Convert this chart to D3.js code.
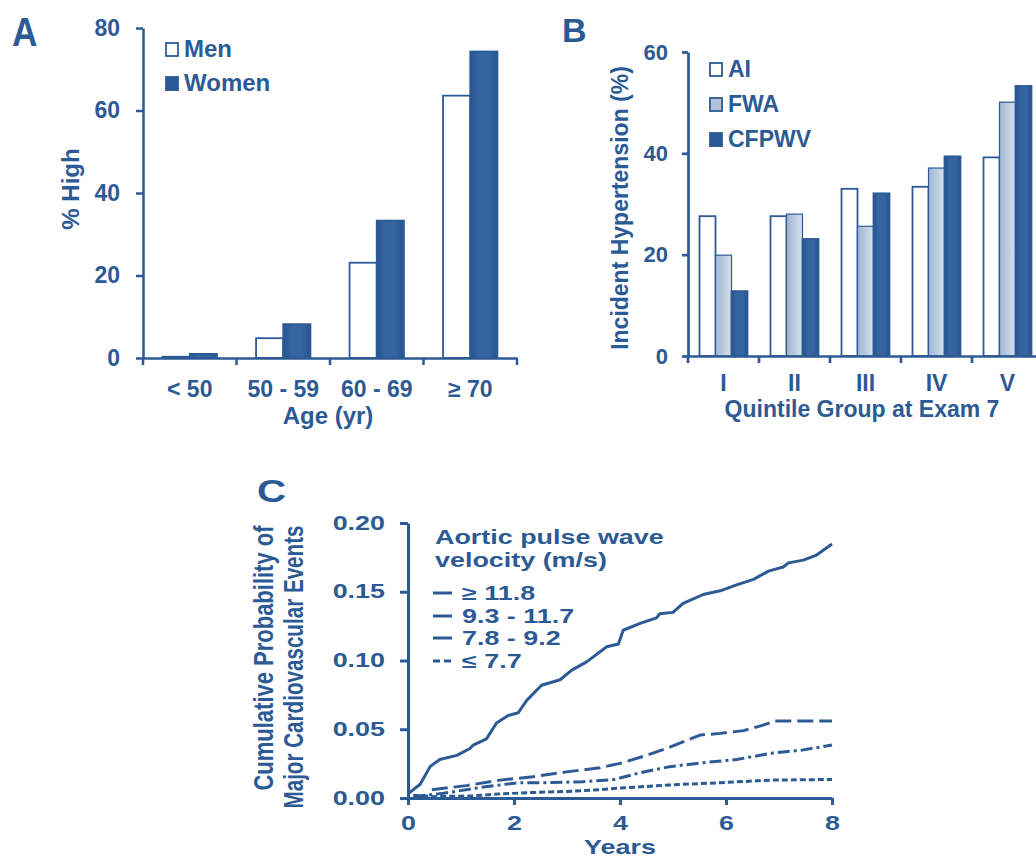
<!DOCTYPE html>
<html>
<head>
<meta charset="utf-8">
<script src="https://cdn.jsdelivr.net/npm/d3@7"></script>
<style>
  body { margin: 0; background: #fff; }
  svg { display: block; font-family: "Liberation Sans", Arial, Helvetica, sans-serif; font-weight: bold; }
</style>
</head>
<body>
<svg id="fig" width="1036" height="857"></svg>
<script>
// ---------- Panel A: prevalence of high values by age and sex ----------
const ageGroups = ["< 50", "50 - 59", "60 - 69", "≥ 70"];
const sexes = ["Men", "Women"];
const menHigh = [0.3, 4.8, 23.1, 63.6];
const womenHigh = [1.0, 8.2, 33.3, 74.3];
const percentTicks = [0, 20, 40, 60, 80];

// ---------- Panel B: incident hypertension by quintile ----------
const quintiles = ["I", "II", "III", "IV", "V"];
const measures = ["AI", "FWA", "CFPWV"];
const aiIncident = [27.6, 27.6, 33.0, 33.4, 39.2];
const fwaIncident = [19.9, 28.0, 25.6, 37.1, 50.1];
const cfpwvIncident = [12.8, 23.1, 32.1, 39.4, 53.3];
const incidentTicks = [0, 20, 40, 60];

// ---------- Panel C: cumulative probability of events by PWV group ----------
const pwvGroups = ["≥ 11.8", "9.3 - 11.7", "7.8 - 9.2", "≤ 7.7"];
const yearTicks = [0, 2, 4, 6, 8];
const probTicks = [0, 0.05, 0.10, 0.15, 0.20];

const yearsHigh = [0, 0.23, 0.42, 0.6, 0.92, 1.17, 1.23, 1.48, 1.67, 1.89, 2.08, 2.24, 2.52, 2.87, 3.09, 3.37, 3.75, 3.97, 4.06, 4.38, 4.69, 4.75, 5.0, 5.19, 5.57, 5.89, 6.2, 6.52, 6.8, 7.08, 7.18, 7.46, 7.71, 8.0];
const probHigh  = [0.003, 0.010, 0.023, 0.028, 0.031, 0.036, 0.0385, 0.043, 0.0545, 0.060, 0.062, 0.071, 0.082, 0.086, 0.093, 0.099, 0.110, 0.112, 0.122, 0.127, 0.131, 0.134, 0.135, 0.1415, 0.148, 0.1507, 0.155, 0.159, 0.165, 0.168, 0.171, 0.173, 0.1767, 0.1847];

const yearsUpper = [0.45, 1.1, 1.74, 2.36, 2.99, 3.62, 4.0, 4.5, 4.94, 5.51, 5.89, 6.33, 6.7, 6.92, 8.0];
const probUpper  = [0.006, 0.009, 0.013, 0.0155, 0.019, 0.022, 0.0252, 0.031, 0.037, 0.0458, 0.047, 0.049, 0.053, 0.056, 0.056];

const yearsMid = [0.1, 0.67, 1.42, 2.05, 2.68, 3.3, 3.9, 4.38, 4.94, 5.57, 6.2, 6.83, 7.46, 8.0];
const probMid  = [0.001, 0.0034, 0.008, 0.011, 0.0112, 0.0118, 0.0135, 0.0184, 0.0228, 0.0257, 0.028, 0.0324, 0.035, 0.0385];

const yearsLow = [0.1, 0.5, 1.2, 1.74, 2.36, 3.0, 3.62, 4.0, 4.94, 5.89, 6.83, 8.0];
const probLow  = [0.002, 0.001, 0.0015, 0.003, 0.004, 0.0048, 0.006, 0.0072, 0.0095, 0.0111, 0.013, 0.0135];

// ---------- shared styling ----------
const BLUE = "#2c5a95";
const svg = d3.select("#fig");
svg.append("rect").attr("width", 1036).attr("height", 857).attr("fill", "#fff");

const defs = svg.append("defs");
function hGradient(id, stops) {
  const g = defs.append("linearGradient").attr("id", id)
    .attr("x1", "0").attr("x2", "1").attr("y1", "0").attr("y2", "0");
  stops.forEach(([o, c]) => g.append("stop").attr("offset", o).attr("stop-color", c));
}
hGradient("darkFill", [["0%", "#26538e"], ["30%", "#3564a0"], ["70%", "#3564a0"], ["100%", "#26538e"]]);
hGradient("lightFill", [["0%", "#a3b6d0"], ["45%", "#b8c8dc"], ["100%", "#d9e2ee"]]);

function styleAxis(g, width, fontSize) {
  g.select(".domain").attr("stroke", BLUE).attr("stroke-width", width);
  g.selectAll(".tick line").attr("stroke", BLUE).attr("stroke-width", width);
  g.selectAll(".tick text").attr("fill", BLUE).attr("font-size", fontSize)
    .attr("font-family", "Liberation Sans, Arial, sans-serif").attr("font-weight", "bold");
}

// =====================================================================
// Panel A
// =====================================================================
const pA = svg.append("g");
const xA = d3.scaleBand().domain(ageGroups).range([143, 517]);
const subA = d3.scaleBand().domain(sexes).range([0, xA.bandwidth()]).paddingOuter(0.72);
const yA = d3.scaleLinear().domain([0, 80]).range([358, 28]);

const seriesA = [
  { key: "Men", values: menHigh, fill: "#ffffff" },
  { key: "Women", values: womenHigh, fill: "url(#darkFill)" }
];
seriesA.forEach(s => {
  pA.append("g").selectAll("rect").data(s.values).join("rect")
    .attr("x", (d, i) => xA(ageGroups[i]) + subA(s.key))
    .attr("width", subA.bandwidth())
    .attr("y", d => yA(d))
    .attr("height", d => yA(0) - yA(d))
    .attr("fill", s.fill)
    .attr("stroke", BLUE).attr("stroke-width", 1.8);
});

const axYA = pA.append("g").attr("transform", "translate(143,0)")
  .call(d3.axisLeft(yA).tickValues(percentTicks).tickSize(7).tickPadding(16).tickSizeOuter(0));
styleAxis(axYA, 2.5, 23);

const axXA = pA.append("g").attr("transform", `translate(0,${yA(0)})`)
  .call(d3.axisBottom(xA).tickSize(0).tickPadding(23).tickSizeOuter(0));
styleAxis(axXA, 2.5, 23);
// tick marks at the category boundaries
const boundsA = ageGroups.map(d => xA(d)).concat([xA.range()[1]]);
pA.append("g").selectAll("line").data(boundsA).join("line")
  .attr("x1", d => d).attr("x2", d => d)
  .attr("y1", yA(0)).attr("y2", yA(0) + 7)
  .attr("stroke", BLUE).attr("stroke-width", 2.5);

pA.append("text").attr("x", 328).attr("y", 424).attr("text-anchor", "middle")
  .attr("fill", BLUE).attr("font-size", 24).text("Age (yr)");
pA.append("text").attr("transform", "translate(79,189) rotate(-90)").attr("text-anchor", "middle")
  .attr("fill", BLUE).attr("font-size", 24).text("% High");

// legend
const legA = pA.append("g");
seriesA.forEach((s, i) => {
  const by = [57, 91][i];
  legA.append("rect").attr("x", 166).attr("y", by - 14).attr("width", 12).attr("height", 13)
    .attr("fill", s.key === "Men" ? "#fff" : BLUE).attr("stroke", BLUE).attr("stroke-width", 1.8);
  legA.append("text").attr("x", 184).attr("y", by).attr("fill", BLUE).attr("font-size", 24).text(s.key);
});

pA.append("text").attr("transform", "translate(12,46) scale(0.86,1)")
  .attr("fill", BLUE).attr("font-size", 41).text("A");

// =====================================================================
// Panel B
// =====================================================================
const pB = svg.append("g");
const xB = d3.scaleBand().domain(quintiles).range([688, 1043]);
const subB = d3.scaleBand().domain(measures).range([0, xB.bandwidth()]).paddingOuter(0.72);
const yB = d3.scaleLinear().domain([0, 60]).range([356, 52]);

const seriesB = [
  { key: "AI", values: aiIncident, fill: "#ffffff" },
  { key: "FWA", values: fwaIncident, fill: "url(#lightFill)" },
  { key: "CFPWV", values: cfpwvIncident, fill: "url(#darkFill)" }
];
seriesB.forEach(s => {
  pB.append("g").selectAll("rect").data(s.values).join("rect")
    .attr("x", (d, i) => xB(quintiles[i]) + subB(s.key))
    .attr("width", subB.bandwidth())
    .attr("y", d => yB(d))
    .attr("height", d => yB(0) - yB(d))
    .attr("fill", s.fill)
    .attr("stroke", BLUE).attr("stroke-width", s.key === "FWA" ? 1.2 : 1.8);
});

const axYB = pB.append("g").attr("transform", "translate(688,0)")
  .call(d3.axisLeft(yB).tickValues(incidentTicks).tickSize(6).tickPadding(14).tickSizeOuter(0));
styleAxis(axYB, 2.7, 22);

const axXB = pB.append("g").attr("transform", `translate(0,${yB(0)})`)
  .call(d3.axisBottom(xB).tickSize(0).tickPadding(19).tickSizeOuter(0));
styleAxis(axXB, 2.7, 23);
const boundsB = quintiles.map(d => xB(d)).concat([xB.range()[1]]);
pB.append("g").selectAll("line").data(boundsB).join("line")
  .attr("x1", d => d).attr("x2", d => d)
  .attr("y1", yB(0)).attr("y2", yB(0) + 7)
  .attr("stroke", BLUE).attr("stroke-width", 2.7);

pB.append("text").attr("x", 862).attr("y", 417).attr("text-anchor", "middle")
  .attr("fill", BLUE).attr("font-size", 23).text("Quintile Group at Exam 7");
pB.append("text").attr("transform", "translate(628,208) rotate(-90)").attr("text-anchor", "middle")
  .attr("fill", BLUE).attr("font-size", 23).text("Incident Hypertension (%)");

const legB = pB.append("g");
seriesB.forEach((s, i) => {
  const by = [77, 112, 147][i];
  legB.append("rect").attr("x", 710).attr("y", by - 14).attr("width", 12).attr("height", 13)
    .attr("fill", s.key === "AI" ? "#fff" : (s.key === "FWA" ? "#b3c4da" : BLUE))
    .attr("stroke", BLUE).attr("stroke-width", 1.8);
  legB.append("text").attr("x", 728).attr("y", by).attr("fill", BLUE).attr("font-size", 23).text(s.key);
});

pB.append("text").attr("x", 562).attr("y", 42).attr("fill", BLUE).attr("font-size", 34).text("B");

// =====================================================================
// Panel C
// =====================================================================
const SX = 1.38; // horizontal stretch of this panel's lettering
const pC = svg.append("g");
const xC = d3.scaleLinear().domain([0, 8]).range([408, 832]);
const yC = d3.scaleLinear().domain([0, 0.2]).range([798, 523]);

const seriesC = [
  { key: pwvGroups[0], t: yearsHigh,  p: probHigh,  dash: null },
  { key: pwvGroups[1], t: yearsUpper, p: probUpper, dash: "16,6" },
  { key: pwvGroups[2], t: yearsMid,   p: probMid,   dash: "12,4,3,4" },
  { key: pwvGroups[3], t: yearsLow,   p: probLow,   dash: "6,3" }
];
const lineC = d3.line().x(d => xC(d[0])).y(d => yC(d[1]));
seriesC.forEach(s => {
  pC.append("path")
    .datum(s.t.map((t, i) => [t, s.p[i]]))
    .attr("d", lineC)
    .attr("fill", "none").attr("stroke", BLUE).attr("stroke-width", 3)
    .attr("stroke-linejoin", "round")
    .attr("stroke-dasharray", s.dash);
});

function stretchText(g) {
  g.selectAll(".tick text").each(function () {
    const t = d3.select(this);
    const x = +(t.attr("x") || 0);
    t.attr("x", x / SX).attr("transform", `scale(${SX},1)`);
  });
}

const axYC = pC.append("g").attr("transform", "translate(408,0)")
  .call(d3.axisLeft(yC).tickValues(probTicks).tickFormat(d3.format(".2f"))
    .tickSize(8).tickPadding(15).tickSizeOuter(0));
styleAxis(axYC, 3, 19.5);
stretchText(axYC);

const axXC = pC.append("g").attr("transform", `translate(0,${yC(0)})`)
  .call(d3.axisBottom(xC).tickValues(yearTicks).tickFormat(d3.format("d"))
    .tickSize(7).tickPadding(11).tickSizeOuter(0));
styleAxis(axXC, 3, 19.5);
stretchText(axXC);

function stretchedLabel(x, y, txt, size, anchor, extra) {
  return pC.append("text")
    .attr("transform", `translate(${x},${y}) scale(${SX},1)${extra || ""}`)
    .attr("text-anchor", anchor).attr("fill", BLUE).attr("font-size", size).text(txt);
}

stretchedLabel(620, 854, "Years", 19.5, "middle");
stretchedLabel(273, 658, "Cumulative Probability of", 20.5, "middle", " rotate(-90)")
  .attr("textLength", 265).attr("lengthAdjust", "spacingAndGlyphs");
stretchedLabel(303, 667, "Major Cardiovascular Events", 20.5, "middle", " rotate(-90)")
  .attr("textLength", 283).attr("lengthAdjust", "spacingAndGlyphs");

// legend
stretchedLabel(435, 544, "Aortic pulse wave", 19.5, "start");
stretchedLabel(435, 567, "velocity (m/s)", 19.5, "start");
const legBase = [600, 623, 645, 668];
seriesC.forEach((s, i) => {
  const by = legBase[i];
  pC.append("line").attr("x1", 433).attr("x2", 452).attr("y1", by - 7).attr("y2", by - 7)
    .attr("stroke", BLUE).attr("stroke-width", 3)
    .attr("stroke-dasharray", i === 3 ? "7,4" : null);
  stretchedLabel(462, by, s.key, 19.5, "start");
});

stretchedLabel(258, 502, "C", 31, "start", "").attr("transform", "translate(257,502) scale(1.3,1)");
</script>
</body>
</html>
